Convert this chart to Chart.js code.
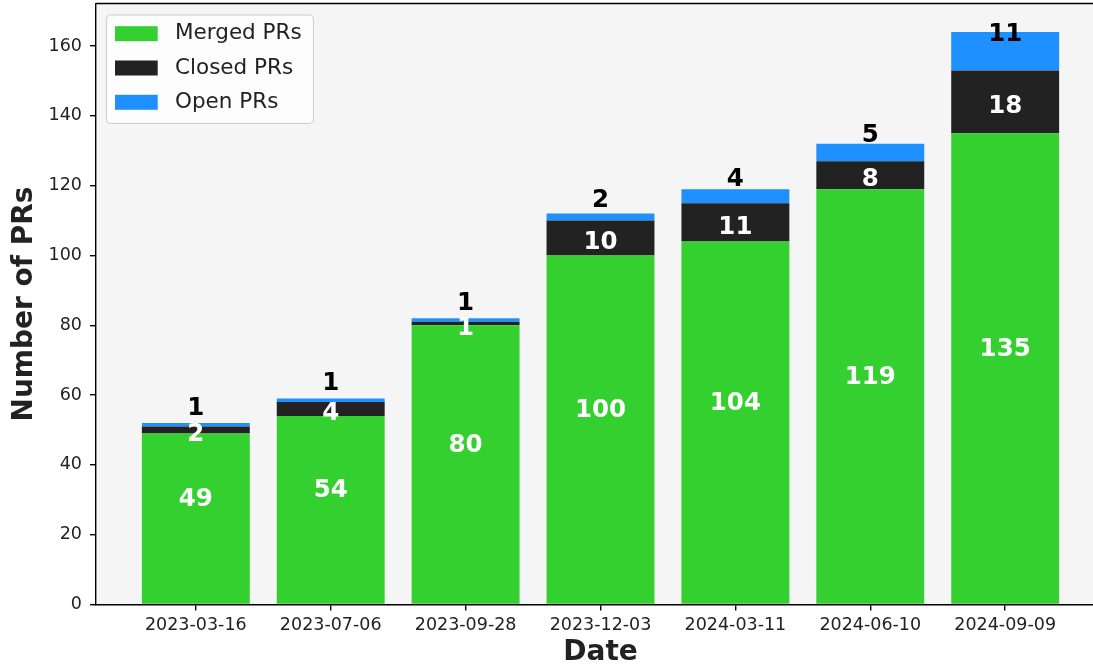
<!DOCTYPE html>
<html>
<head>
<meta charset="utf-8">
<script src="https://cdn.jsdelivr.net/npm/chart.js@4.4.1/dist/chart.umd.min.js"></script>
<style>
  html, body { margin: 0; padding: 0; background: #ffffff; }
  #wrap { width: 1093px; height: 664px; overflow: hidden; }
  #data { display: block; }
</style>
</head>
<body>
<div id="wrap"><canvas id="data" width="1110" height="664"></canvas></div>
<script>
var dates = ['2023-03-16', '2023-07-06', '2023-09-28', '2023-12-03', '2024-03-11', '2024-06-10', '2024-09-09'];
var merged_prs = [49, 54, 80, 100, 104, 119, 135];
var closed_prs = [2, 4, 1, 10, 11, 8, 18];
var open_prs = [1, 1, 1, 2, 4, 5, 11];
var y_ticks = [0, 20, 40, 60, 80, 100, 120, 140, 160];

var FONT = "'DejaVu Sans', sans-serif";

function points(values) {
    return values.map((v, i) => ({x: i, y: v}));
}

// label colour + shift (in data units) for each series, like the bar_label calls
var label_style = [
    {color: '#ffffff', shift: 5.6},
    {color: '#ffffff', shift: -1.4},
    {color: '#000000', shift: 4.7}
];

var plot_bg = {
    id: 'plot_bg',
    beforeDraw(chart) {
        const a = chart.chartArea, ctx = chart.ctx;
        ctx.save();
        ctx.fillStyle = '#f5f5f5';
        ctx.fillRect(a.left, a.top, a.right - a.left, a.bottom - a.top);
        ctx.restore();
    },
    afterDraw(chart) {
        const a = chart.chartArea, ctx = chart.ctx;
        ctx.save();
        ctx.strokeStyle = '#000000';
        ctx.lineWidth = 1.4;
        ctx.beginPath();
        ctx.moveTo(a.left, a.top);
        ctx.lineTo(a.right, a.top);
        ctx.lineTo(a.right, a.bottom);
        ctx.stroke();
        ctx.restore();
    }
};

var bar_labels = {
    id: 'bar_labels',
    afterDatasetsDraw(chart) {
        const ctx = chart.ctx, y = chart.scales.y;
        ctx.save();
        ctx.font = 'bold 24.5px ' + FONT;
        ctx.textAlign = 'center';
        ctx.textBaseline = 'middle';
        chart.data.datasets.forEach((ds, d) => {
            const meta = chart.getDatasetMeta(d);
            meta.data.forEach((bar, i) => {
                let base = 0;
                for (let k = 0; k < d; k++) base += chart.data.datasets[k].data[i].y;
                const v = ds.data[i].y;
                ctx.fillStyle = label_style[d].color;
                ctx.fillText(String(v), bar.x, y.getPixelForValue(base + v / 2 + label_style[d].shift));
            });
        });
        ctx.restore();
    }
};

var box_legend = {
    id: 'box_legend',
    afterDraw(chart) {
        const ctx = chart.ctx;
        ctx.save();
        ctx.beginPath();
        ctx.roundRect(106.5, 15, 207, 108.5, 4);
        ctx.fillStyle = 'rgba(255,255,255,0.8)';
        ctx.fill();
        ctx.strokeStyle = '#cccccc';
        ctx.lineWidth = 1;
        ctx.stroke();
        ctx.font = '21.5px ' + FONT;
        ctx.textBaseline = 'middle';
        chart.data.datasets.forEach((ds, d) => {
            const cy = 33.7 + d * 34.3;
            ctx.fillStyle = ds.backgroundColor;
            ctx.fillRect(115, cy - 7.5, 42.7, 15);
            ctx.fillStyle = '#222222';
            ctx.fillText(ds.label, 175, cy);
        });
        ctx.restore();
    }
};

var config = {
    type: 'bar',
    data: {
        datasets: [
            {label: 'Merged PRs', data: points(merged_prs), backgroundColor: '#34d030'},
            {label: 'Closed PRs', data: points(closed_prs), backgroundColor: '#222222'},
            {label: 'Open PRs', data: points(open_prs), backgroundColor: '#1e90ff'}
        ]
    },
    options: {
        responsive: false,
        animation: false,
        devicePixelRatio: 1,
        layout: {padding: {top: 3.5, right: 5, left: 0, bottom: 0}},
        datasets: {bar: {barPercentage: 0.8, categoryPercentage: 1.0}},
        plugins: {legend: {display: false}, tooltip: {enabled: false}},
        scales: {
            x: {
                type: 'linear',
                stacked: true,
                offset: false,
                min: -0.74,
                max: 6.74,
                afterBuildTicks: (s) => { s.ticks = dates.map((_, i) => ({value: i})); },
                afterFit: (s) => { s.height = 59.5; s.paddingLeft = 0; s.paddingRight = 0; },
                ticks: {
                    callback: (v) => dates[v],
                    autoSkip: false, maxRotation: 0,
                    color: '#222222', padding: 4,
                    font: {family: FONT, size: 17.5}
                },
                grid: {offset: false, drawOnChartArea: false, tickLength: 6, color: '#000000', lineWidth: 1.4},
                border: {color: '#000000', width: 1.4},
                title: {
                    display: true, text: 'Date', color: '#222222',
                    font: {family: FONT, size: 28, weight: 'bold', lineHeight: 0.8},
                    padding: {top: 0, bottom: 0.5}
                }
            },
            y: {
                stacked: true,
                min: 0,
                max: 172.2,
                afterBuildTicks: (s) => { s.ticks = y_ticks.map((v) => ({value: v})); },
                afterFit: (s) => { s.width = 96; s.paddingTop = 0; s.paddingBottom = 0; },
                ticks: {
                    color: '#222222', padding: 8,
                    font: {family: FONT, size: 17.5}
                },
                grid: {drawOnChartArea: false, tickLength: 6, color: '#000000', lineWidth: 1.4},
                border: {color: '#000000', width: 1.4},
                title: {
                    display: true, text: 'Number of PRs', color: '#222222',
                    font: {family: FONT, size: 28, weight: 'bold', lineHeight: 0.8},
                    padding: {top: 14, bottom: 0}
                }
            }
        }
    },
    plugins: [plot_bg, bar_labels, box_legend]
};

(function() {
    new Chart(document.getElementById('data'), config);
})();
</script>
</body>
</html>
